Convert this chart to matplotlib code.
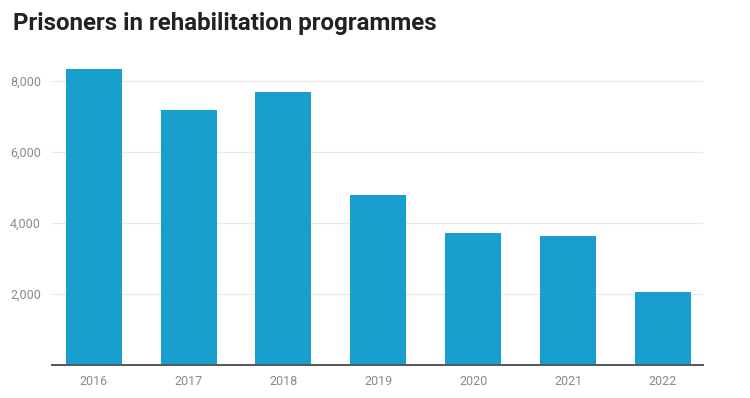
import matplotlib.pyplot as plt

plt.rcParams['font.family'] = ['Roboto', 'DejaVu Sans']

# 数据
years = ['2016', '2017', '2018', '2019', '2020', '2021', '2022']
prisoners = [8340, 7180, 7690, 4790, 3720, 3640, 2060]
yticks = [2000, 4000, 6000, 8000]

BAR_COLOR = '#199fcd'

fig = plt.figure(figsize=(7.5, 3.98), dpi=100)
ax = fig.add_axes([0.0693, 0.0829, 0.8677, 0.785])

x = range(len(years))
ax.bar(x, prisoners, width=0.59, color=BAR_COLOR, zorder=3)

ax.set_xlim(-0.44, len(years) - 1 + 0.42)
ax.set_ylim(0, 8800)
ax.set_xticks(list(x))
ax.set_xticklabels(years)
ax.set_yticks(yticks)
ax.set_yticklabels([f'{v:,}' for v in yticks])

ax.grid(axis='y', color='#e8e8e8', lw=0.9, zorder=0)
for side in ['top', 'right', 'left']:
    ax.spines[side].set_visible(False)
ax.spines['bottom'].set_color('#555555')
ax.spines['bottom'].set_linewidth(1.4)
ax.spines['bottom'].set_zorder(4)
ax.tick_params(axis='both', length=0, labelsize=9, colors='#8a8a8a')
ax.tick_params(axis='y', pad=8)
ax.tick_params(axis='x', pad=7)

fig.text(0.018, 0.94, 'Prisoners in rehabilitation programmes',
         fontsize=17.4, fontweight='bold', color='#222222', va='center')

fig.savefig('out.png', dpi=100)
